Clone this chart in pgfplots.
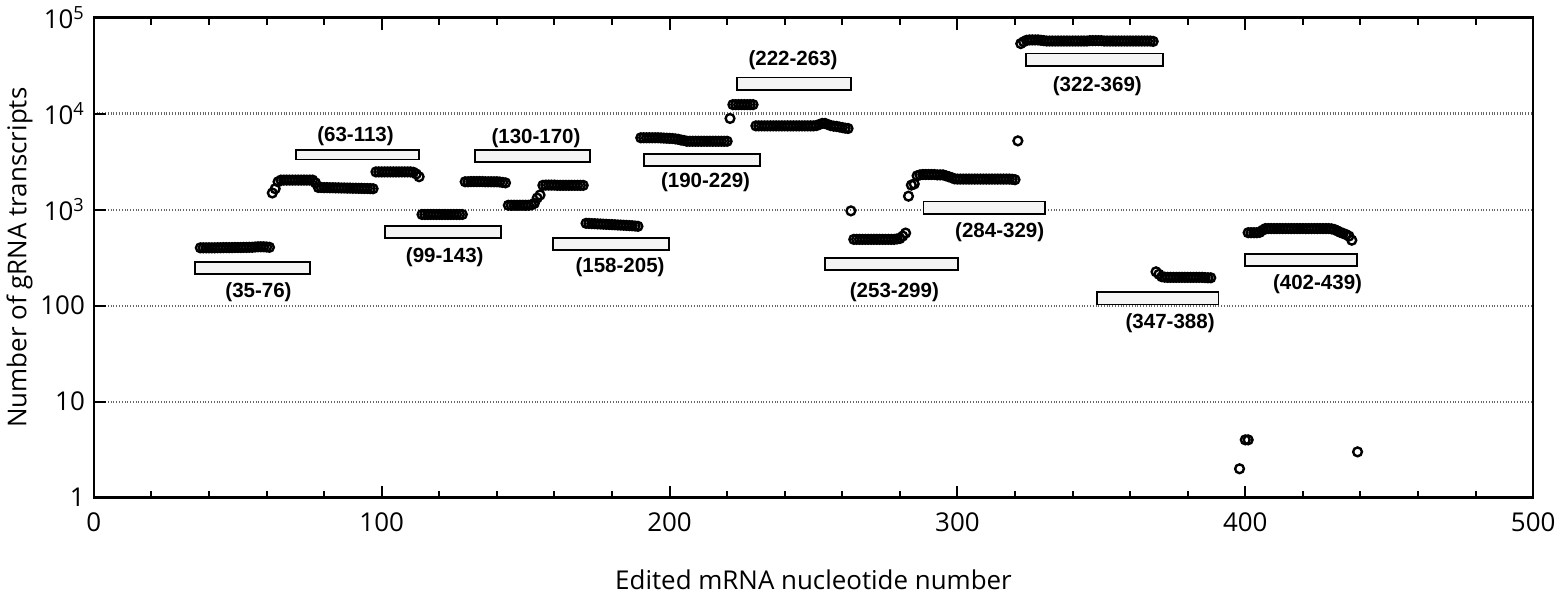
\documentclass[border=0pt]{standalone}
\usepackage{fontspec}
\setmainfont{Open Sans}
\newfontfamily\labfont{Liberation Sans}
\usepackage{pgfplots}
\pgfplotsset{compat=1.18}

% bracket labels of the gRNA bars
\newcommand{\rng}[3]{\node[font=\labfont\bfseries\fontsize{10.3}{12}\selectfont] at (axis cs:#1,#2) {#3};}

\begin{document}
\begin{tikzpicture}
\begin{axis}[
    scale only axis,
    width=719.5bp, height=240bp,
    xmin=0, xmax=500,
    ymode=log, ymin=1, ymax=100000,
    xtick={0,100,...,500}, minor x tick num=4,
    ytick={1,10,100,1000,10000,100000},
    yticklabels={1,10,100,10\textsuperscript{3},10\textsuperscript{4},10\textsuperscript{5}},
    yminorticks=false,
    xtick pos=both, ytick pos=left,
    tick align=inside,
    major tick length=6bp, minor tick length=3.5bp,
    tick style={black, line width=1bp},
    axis line style={line width=1.3bp},
    ymajorgrids,
    major grid style={densely dotted, black!60, line width=1.1bp},
    /pgf/number format/assume math mode=true,
    ticklabel style={font=\fontsize{13}{15}\selectfont},
    xticklabel style={yshift=-4bp},
    yticklabel style={xshift=-1bp},
    label style={font=\fontsize{13}{15}\selectfont},
    xlabel={Edited mRNA nucleotide number},
    xlabel style={yshift=-12bp},
    ylabel={Number of gRNA transcripts},
    ylabel style={yshift=-3bp},
    clip=false,
]
% gRNA bars
\addplot[draw=black, fill=gray!9, line width=0.9bp] coordinates {(35.1,215) (75.0,215) (75.0,287) (35.1,287)} -- cycle;
\addplot[draw=black, fill=gray!9, line width=0.9bp] coordinates {(70.2,3319) (112.9,3319) (112.9,4217) (70.2,4217)} -- cycle;
\addplot[draw=black, fill=gray!9, line width=0.9bp] coordinates {(101.1,511) (141.4,511) (141.4,681) (101.1,681)} -- cycle;
\addplot[draw=black, fill=gray!9, line width=0.9bp] coordinates {(132.3,3140) (172.4,3140) (172.4,4217) (132.3,4217)} -- cycle;
\addplot[draw=black, fill=gray!9, line width=0.9bp] coordinates {(159.4,377) (199.7,377) (199.7,511) (159.4,511)} -- cycle;
\addplot[draw=black, fill=gray!9, line width=0.9bp] coordinates {(191.2,2826) (231.5,2826) (231.5,3802) (191.2,3802)} -- cycle;
\addplot[draw=black, fill=gray!9, line width=0.9bp] coordinates {(223.3,17660) (262.9,17660) (262.9,23714) (223.3,23714)} -- cycle;
\addplot[draw=black, fill=gray!9, line width=0.9bp] coordinates {(253.9,235) (300.2,235) (300.2,316) (253.9,316)} -- cycle;
\addplot[draw=black, fill=gray!9, line width=0.9bp] coordinates {(288.2,902) (330.4,902) (330.4,1212) (288.2,1212)} -- cycle;
\addplot[draw=black, fill=gray!9, line width=0.9bp] coordinates {(323.8,31400) (371.3,31400) (371.3,42170) (323.8,42170)} -- cycle;
\addplot[draw=black, fill=gray!9, line width=0.9bp] coordinates {(348.4,103) (390.7,103) (390.7,139) (348.4,139)} -- cycle;
\addplot[draw=black, fill=gray!9, line width=0.9bp] coordinates {(400.0,257) (438.9,257) (438.9,342) (400.0,342)} -- cycle;

% transcripts per edited nucleotide
\addplot[only marks, mark=o, mark size=2.2bp, mark options={line width=1.2bp, black}] coordinates {
(37,400)(38,400)(39,400)(40,400)(41,400)(42,400)(43,401)(44,401)(45,402)(46,402)(47,402)(48,402)(49,403)
(50,403)(51,403)(52,404)(53,404)(54,405)(55,405)(56,408)(57,410)(58,410)(59,410)(60,408)(61,405)
(62,1490)(63,1650)(64,1950)(65,2030)(66,2030)(67,2030)(68,2030)(69,2030)(70,2030)(71,2030)(72,2030)
(73,2030)(74,2030)(75,2030)(76,2030)(77,1900)(78,1700)(79,1700)(80,1695)(81,1695)(82,1690)(83,1690)
(84,1685)(85,1685)(86,1680)(87,1680)(88,1675)(89,1675)(90,1670)(91,1670)(92,1665)(93,1665)(94,1660)
(95,1660)(96,1655)(97,1650)
(98,2470)(99,2470)(100,2470)(101,2470)(102,2470)(103,2470)(104,2470)(105,2470)(106,2470)(107,2470)
(108,2470)(109,2470)(110,2470)(111,2450)(112,2350)(113,2200)
(114,890)(115,890)(116,890)(117,890)(118,890)(119,890)(120,890)(121,890)(122,890)(123,890)(124,890)
(125,890)(126,890)(127,890)(128,890)
(129,1950)(130,1950)(131,1960)(132,1960)(133,1960)(134,1960)(135,1960)(136,1950)(137,1950)(138,1950)
(139,1950)(140,1950)(141,1940)(142,1920)(143,1900)
(144,1110)(145,1110)(146,1110)(147,1110)(148,1110)(149,1110)(150,1110)(151,1110)(152,1120)(153,1160)
(154,1320)(155,1420)
(156,1790)(157,1800)(158,1800)(159,1800)(160,1800)(161,1790)(162,1790)(163,1790)(164,1790)(165,1790)
(166,1790)(167,1790)(168,1790)(169,1790)(170,1790)
(171,720)(172,718)(173,715)(174,713)(175,710)(176,708)(177,705)(178,703)(179,700)(180,698)(181,695)
(182,692)(183,690)(184,688)(185,685)(186,682)(187,679)(188,675)(189,670)
(190,5600)(191,5600)(192,5600)(193,5600)(194,5600)(195,5600)(196,5600)(197,5580)(198,5560)(199,5540)
(200,5520)(201,5500)(202,5450)(203,5400)(204,5300)(205,5250)(206,5150)(207,5150)(208,5150)(209,5150)
(210,5150)(211,5150)(212,5150)(213,5150)(214,5150)(215,5150)(216,5150)(217,5150)(218,5150)(219,5150)
(220,5150)
(221,8900)
(222,12400)(223,12400)(224,12400)(225,12400)(226,12400)(227,12400)(228,12400)(229,12400)
(230,7450)(231,7450)(232,7450)(233,7450)(234,7450)(235,7450)(236,7450)(237,7450)(238,7450)(239,7450)
(240,7450)(241,7450)(242,7450)(243,7450)(244,7450)(245,7450)(246,7450)(247,7450)(248,7450)(249,7450)
(250,7450)(251,7500)(252,7700)(253,7900)(254,7900)(255,7700)(256,7500)(257,7400)(258,7350)(259,7250)
(260,7150)(261,7050)(262,7000)
(263,970)
(264,490)(265,490)(266,490)(267,490)(268,490)(269,490)(270,490)(271,490)(272,490)(273,490)(274,490)
(275,490)(276,490)(277,490)(278,490)(279,495)(280,500)(281,530)(282,570)
(283,1380)(284,1800)(285,1850)
(286,2250)(287,2300)(288,2320)(289,2320)(290,2320)(291,2320)(292,2320)(293,2300)(294,2300)(295,2300)
(296,2250)(297,2200)(298,2150)(299,2090)(300,2080)(301,2080)(302,2080)(303,2080)(304,2080)(305,2080)
(306,2080)(307,2080)(308,2080)(309,2080)(310,2080)(311,2080)(312,2080)(313,2080)(314,2080)(315,2080)
(316,2080)(317,2080)(318,2080)(319,2070)(320,2050)
(321,5200)
(322,53600)(323,56000)(324,58000)(325,58500)(326,58500)(327,58500)(328,58500)(329,58000)(330,57500)
(331,57000)(332,57000)(333,57000)(334,57000)(335,57000)(336,57000)(337,57000)(338,57000)(339,57000)
(340,57000)(341,57000)(342,57000)(343,57000)(344,57000)(345,57000)(346,57500)(347,57500)(348,57500)
(349,57500)(350,57500)(351,57000)(352,57000)(353,57000)(354,57000)(355,57000)(356,57000)(357,57000)
(358,57000)(359,57000)(360,57000)(361,57000)(362,57000)(363,57000)(364,57000)(365,57000)(366,57000)
(367,57000)(368,56500)
(369,225)(370,212)(371,200)(372,198)(373,197)(374,197)(375,197)(376,197)(377,197)(378,197)(379,197)
(380,197)(381,197)(382,197)(383,197)(384,197)(385,197)(386,196)(387,195)(388,195)
(398,2)(400,4)(401,4)(439,3)
(401,575)(402,575)(403,575)(404,575)(405,580)(406,610)(407,635)(408,635)(409,635)(410,635)(411,635)
(412,635)(413,635)(414,635)(415,635)(416,635)(417,635)(418,635)(419,635)(420,635)(421,635)(422,635)
(423,635)(424,635)(425,635)(426,635)(427,635)(428,635)(429,635)(430,630)(431,620)(432,600)(433,580)
(434,565)(435,550)(436,530)(437,480)
};

\rng{57.2}{139}{(35-76)}
\rng{90.9}{5800}{(63-113)}
\rng{121.9}{321}{(99-143)}
\rng{153.6}{5585}{(130-170)}
\rng{182.8}{253}{(158-205)}
\rng{212.5}{1944}{(190-229)}
\rng{242.9}{35650}{(222-263)}
\rng{278.1}{139}{(253-299)}
\rng{314.7}{576}{(284-329)}
\rng{348.6}{19250}{(322-369)}
\rng{373.9}{66}{(347-388)}
\rng{425.1}{167}{(402-439)}
\end{axis}
\end{tikzpicture}
\end{document}
